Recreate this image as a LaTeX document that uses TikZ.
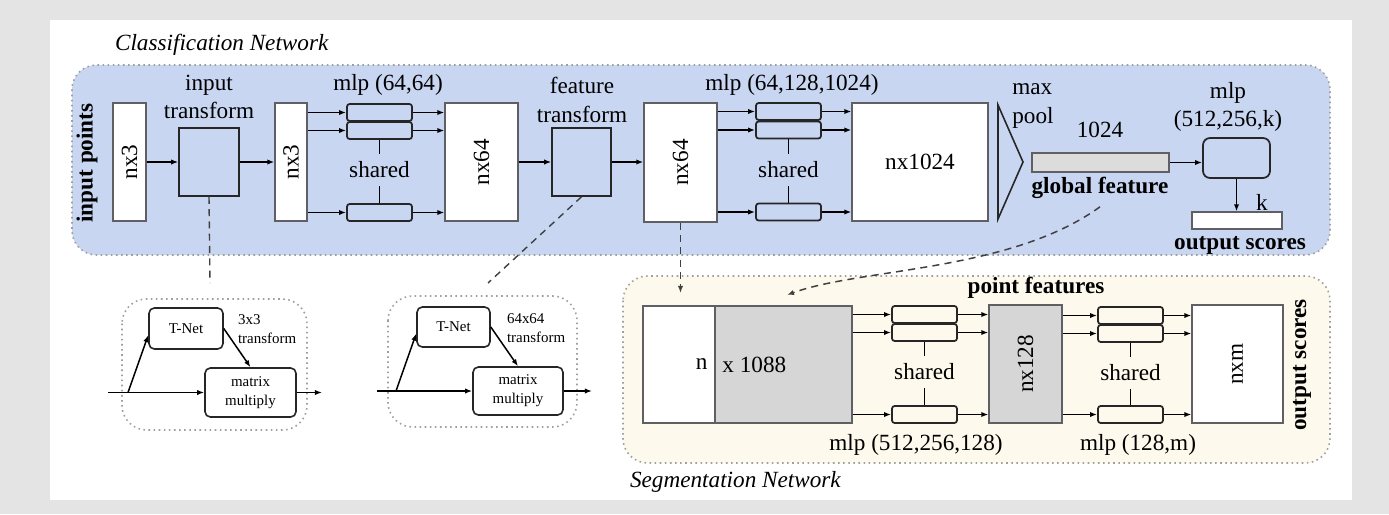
\documentclass[tikz,border=0pt]{standalone}
\usepackage{fontspec}
\setmainfont{Liberation Serif}
\usetikzlibrary{arrows.meta}

\definecolor{clsblue}{RGB}{201,214,241}
\definecolor{segbeige}{RGB}{253,249,236}
\definecolor{featgray}{RGB}{214,214,214}
\definecolor{pagegray}{RGB}{228,228,228}
\definecolor{edgegray}{RGB}{95,95,100}

\begin{document}
\fontsize{13.2}{16.4}\selectfont
\begin{tikzpicture}[x=0.02cm, y=-0.02cm,
    layer/.style 2 args={draw=edgegray, line width=0.7pt, fill=white, inner sep=0pt,
      minimum width=#1cm, minimum height=#2cm},
    unit/.style={draw=black!85, line width=1pt, rounded corners=1.5pt, inner sep=0pt,
      minimum width=1.3cm, minimum height=0.34cm},
    tbox/.style={draw=black!85, line width=0.9pt, rounded corners=3pt, align=center,
      font=\fontsize{8.5}{10.8}\selectfont},
    small/.style={font=\fontsize{8.5}{10.8}\selectfont, align=left, anchor=west},
    region/.style={draw=gray!75, dotted, line width=0.9pt, rounded corners=14pt},
    arr/.style={line width=0.85pt, -{Latex[length=4pt,width=3pt]}},
    link/.style={draw=black!75, line width=0.8pt, dash pattern=on 4pt off 3pt}]

  \useasboundingbox (0,0) rectangle (1389,514);
  \fill[pagegray] (0,0) rectangle (1389,514);
  \fill[white] (50,20) rectangle (1352,500);
  \filldraw[region, fill=clsblue] (72,65) rectangle (1330,255);
  \filldraw[region, fill=segbeige] (623,276) rectangle (1330,463);
  \filldraw[region, fill=white] (122,299) rectangle (307,430);
  \filldraw[region, fill=white] (388,296) rectangle (577,427);

  \node[anchor=west, font=\itshape] (clsname) at (107,45) {Classification Network};
  \node[anchor=west, font=\itshape] (segname) at (622,482) {Segmentation Network};

  % classification branch
  \node[rotate=90, font=\bfseries] (inpts) at (87,163) {input points};
  \node[layer={0.66}{2.36}] (nx3a) at (129.5,162) {\rotatebox{90}{nx3}};
  \node[draw=black!85, line width=0.9pt, inner sep=0pt, minimum width=1.2cm, minimum height=1.36cm] (itf) at (209,162) {};
  \node[align=center] (itflab) at (209,97) {input\\transform};
  \node[layer={0.64}{2.36}] (nx3b) at (291,162) {\rotatebox{90}{nx3}};

  \node (mlp1) at (388,85) {mlp (64,64)};
  \node[unit] (m1a) at (379.5,112.5) {};
  \node[unit] (m1b) at (379.5,130.5) {};
  \node[unit] (m1c) at (379.5,212.5) {};
  \node (sh1) at (379.5,170) {shared};
  \node[layer={1.46}{2.36}] (nx64a) at (481.5,162) {\rotatebox{90}{nx64}};

  \node[draw=black!85, line width=0.9pt, inner sep=0pt, minimum width=1.18cm, minimum height=1.36cm] (ftf) at (581.5,162) {};
  \node[align=center] (ftflab) at (582,100) {feature\\transform};
  \node[layer={1.46}{2.38}] (nx64b) at (680.5,162.5) {\rotatebox{90}{nx64}};

  \node (mlp2) at (792,85) {mlp (64,128,1024)};
  \node[unit] (m2a) at (788.5,111.5) {};
  \node[unit] (m2b) at (788.5,130) {};
  \node[unit] (m2c) at (788.5,212) {};
  \node (sh2) at (788.5,170) {shared};
  \node[layer={2.72}{2.36}] (nx1024) at (920,162) {nx1024};

  \draw[draw=black!85, line width=0.9pt] (998,105) -- (1023,162) -- (998,219) -- cycle;
  \node[align=left] (pool) at (1033,106) {max\\pool};
  \node (glen) at (1100,130) {1024};
  \node[draw=edgegray, line width=0.9pt, fill=featgray!85, inner sep=0pt, minimum width=2.74cm, minimum height=0.38cm] (gfeat) at (1100.5,162.5) {};
  \node[font=\bfseries] (gflab) at (1100,188) {global feature};

  \node[align=center] (mlp3) at (1228,107) {mlp\\(512,256,k)};
  \node[draw=black!85, line width=1pt, rounded corners=4pt, minimum width=1.34cm, minimum height=0.8cm] (cmlp) at (1236.5,158) {};
  \node[draw=edgegray, line width=0.7pt, fill=white, inner sep=0pt, minimum width=1.8cm, minimum height=0.34cm] (oscore) at (1237,220.5) {};
  \node (klab) at (1262,202) {k};
  \node[font=\bfseries] (oslab) at (1240,245) {output scores};

  \draw[arr] (nx3a) -- (itf);
  \draw[arr] (itf) -- (nx3b);
  \draw[arr] (nx3b.east |- m1a) edge (m1a) (nx3b.east |- m1b) edge (m1b) (nx3b.east |- m1c) edge (m1c)
    (m1a) edge (nx64a.west |- m1a) (m1b) edge (nx64a.west |- m1b) (m1c) -- (nx64a.west |- m1c);
  \draw[line width=1.1pt] (m1b) -- (sh1) (sh1) -- (m1c);
  \draw[arr] (nx64a) -- (ftf);
  \draw[arr] (ftf) -- (nx64b.west |- ftf);
  \draw[arr] (nx64b.east |- m2a) edge (m2a) (nx64b.east |- m2b) edge (m2b) (nx64b.east |- m2c) edge (m2c)
    (m2a) edge (nx1024.west |- m2a) (m2b) edge (nx1024.west |- m2b) (m2c) -- (nx1024.west |- m2c);
  \draw[line width=1.1pt] (m2b) -- (sh2) (sh2) -- (m2c);
  \draw[arr] (gfeat) -- (cmlp.west |- gfeat);
  \draw[arr] (cmlp.south) -- (cmlp.south |- oscore.north);

  % transform nets
  \node[tbox, minimum width=1.48cm, minimum height=0.82cm] (tn1) at (186,328.5) {T-Net};
  \node[tbox, minimum width=1.82cm, minimum height=0.98cm] (mm1) at (250.5,392.5) {matrix\\multiply};
  \node[small] (tlab1) at (230,329.5) {3x3\\transform};
  \coordinate (in1) at (108,392.5);
  \coordinate (br1) at (128,392.5);
  \coordinate (out1) at (322,392.5);
  \draw[line width=0.85pt] (in1) -- (br1);
  \draw[arr] (br1) -- (mm1);
  \draw[arr] (br1) -- (tn1.-170);
  \draw[arr] (tn1.east) -- (mm1.north);
  \draw[arr] (mm1) -- (out1);

  \node[tbox, minimum width=1.46cm, minimum height=0.8cm] (tn2) at (453.5,327) {T-Net};
  \node[tbox, minimum width=1.8cm, minimum height=0.96cm] (mm2) at (518,391) {matrix\\multiply};
  \node[small] (tlab2) at (499,328) {64x64\\transform};
  \coordinate (in2) at (377,391);
  \coordinate (br2) at (396,391);
  \coordinate (out2) at (592,391);
  \draw[line width=0.85pt] (in2) -- (br2);
  \draw[arr] (br2) -- (mm2);
  \draw[arr] (br2) -- (tn2.-170);
  \draw[arr] (tn2.east) -- (mm2.north);
  \draw[arr] (mm2) -- (out2);

  \coordinate (d1) at (210,283);
  \coordinate (d2) at (488,283);
  \draw[link] (itf.south) -- (d1);
  \draw[link] (ftf.south) -- (d2);

  % segmentation branch
  \node[layer={1.44}{2.34}] (segL) at (679,364.5) {};
  \node[layer={2.74}{2.34}, fill=featgray] (segR) at (783.5,364.5) {};
  \node[anchor=east] (nlab) at (segL.east) {n};
  \node[anchor=west] (cat) at (segR.west) {x 1088};
  \node[font=\bfseries] (pflab) at (1036,288) {point features};

  \node[unit] (m3a) at (924.5,314.5) {};
  \node[unit] (m3b) at (924.5,332.5) {};
  \node[unit] (m3c) at (924.5,414.5) {};
  \node (sh3) at (924.5,372) {shared};
  \node (mlp4) at (916,445) {mlp (512,256,128)};
  \node[layer={1.46}{2.36}, fill=featgray] (nx128) at (1025.5,364) {\rotatebox{90}{nx128}};

  \node[unit] (m4a) at (1130.5,315.5) {};
  \node[unit] (m4b) at (1130.5,333.5) {};
  \node[unit] (m4c) at (1130.5,414.5) {};
  \node (sh4) at (1130.5,373) {shared};
  \node (mlp5) at (1138,445) {mlp (128,m)};
  \node[layer={1.82}{2.36}] (nxm) at (1237.5,364) {\rotatebox{90}{nxm}};
  \node[rotate=90, font=\bfseries] (seglab) at (1302,365) {output scores};

  \draw[arr] (segR.east |- m3a) edge (m3a) (segR.east |- m3b) edge (m3b) (segR.east |- m3c) edge (m3c)
    (m3a) edge (nx128.west |- m3a) (m3b) edge (nx128.west |- m3b) (m3c) -- (nx128.west |- m3c);
  \draw[line width=1.1pt] (m3b) -- (sh3) (sh3) -- (m3c);
  \draw[arr] (nx128.east |- m4a) edge (m4a) (nx128.east |- m4b) edge (m4b) (nx128.east |- m4c) edge (m4c)
    (m4a) edge (nxm.west |- m4a) (m4b) edge (nxm.west |- m4b) (m4c) -- (nxm.west |- m4c);
  \draw[line width=1.1pt] (m4b) -- (sh4) (sh4) -- (m4c);

  \coordinate (d3) at (680.5,293);
  \coordinate (d4) at (787,295);
  \draw[link, arr] (nx64b.south) -- (d3);
  \draw[link, arr] (gflab.south) .. controls (1010,272) and (860,268) .. (d4);
\end{tikzpicture}
\end{document}
